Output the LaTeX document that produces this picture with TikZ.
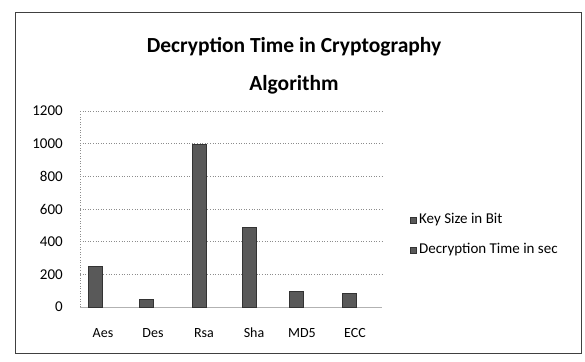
\documentclass[tikz,border=0pt]{standalone}
\usepackage{fontspec}
\setmainfont{Carlito}
\begin{document}
\begin{tikzpicture}[x=1pt,y=-1pt,
  frame/.style={draw=black!75,line width=0.7pt},
  grid/.style={draw=black!45,dotted,line width=0.6pt},
  bar/.style={fill=black!65,draw=black!80,line width=0.3pt},
  ticklbl/.style={anchor=east,font=\fontsize{15}{16}\selectfont,inner sep=0pt},
  catlbl/.style={anchor=center,font=\fontsize{14}{15}\selectfont,inner sep=0pt},
  leglbl/.style={anchor=west,font=\fontsize{15}{16}\selectfont,inner sep=0pt},
  legmark/.style={fill=black!65,draw=black!80,minimum size=6pt,inner sep=0pt}]
\useasboundingbox (0,0) rectangle (585,361);
\fill[white] (0,0) rectangle (585,361);
\draw[frame] (15,12) rectangle (581,353);
% title
\node[font=\bfseries\fontsize{21.5}{38}\selectfont,align=center,inner sep=0pt] (title) at (294,66) {Decryption Time in Cryptography\\Algorithm};
% grid
\foreach \v/\n in {0/0,200/200,400/400,600/600,800/800,1000/1000,1200/1200}{
  \pgfmathsetmacro{\yy}{307-\v*0.1633}
  \coordinate (gl\n) at (80,\yy);
  \coordinate (gr\n) at (382,\yy);
  \node[ticklbl] (t\n) at (63,\yy) {\v};
}
\foreach \n in {200,400,600,800,1000,1200}{ \draw[grid] (gl\n) -- (gr\n); }
\draw[grid] (gl0) -- (gl1200);
\draw[draw=black!30,line width=0.4pt] (gl0) -- (gr0);
% bars
\foreach \c/\v/\nm/\lx in {95/250/Aes/103, 146/50/Des/153, 199/1000/Rsa/204, 249/490/Sha/254, 296/100/MD5/302, 349/85/ECC/355}{
  \pgfmathsetmacro{\yt}{307-\v*0.1633}
  \draw[bar] (\c-7,307) rectangle (\c+7,\yt);
  \node[catlbl] (c\nm) at (\lx,333) {\nm};
}
% legend
\node[legmark] (m1) at (413,220) {};
\node[leglbl] (l1) at (419,220) {Key Size in Bit};
\node[legmark] (m2) at (413,250) {};
\node[leglbl] (l2) at (419,250) {Decryption Time in sec};
\end{tikzpicture}
\end{document}
